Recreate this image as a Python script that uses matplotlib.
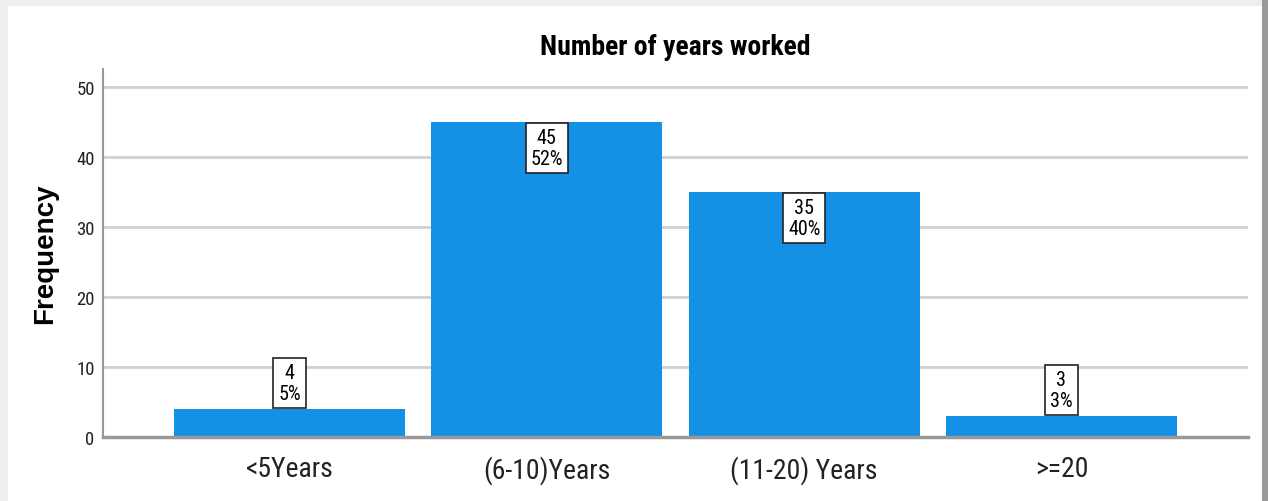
import matplotlib.pyplot as plt
from matplotlib.patches import Rectangle

categories = ['<5Years', '(6-10)Years', '(11-20) Years', '>=20']
counts = [4, 45, 35, 3]
percents = [5, 52, 40, 3]

narrow = ['Roboto Condensed', 'DejaVu Sans']
bar_color = '#1490e4'

fig = plt.figure(figsize=(12.68, 5.02), dpi=100)
fig.patch.set_facecolor('#eeeeee')
# white card with a darker shadow strip on the right
fig.patches.append(Rectangle((1262 / 1268, 0), 6 / 1268, 1, transform=fig.transFigure,
                             facecolor='#9a9a9a', edgecolor='none', zorder=-2))
fig.patches.append(Rectangle((8 / 1268, 0), 1254 / 1268, 1 - 7 / 502, transform=fig.transFigure,
                             facecolor='white', edgecolor='none', zorder=-1))

ax = fig.add_axes([103 / 1268, 1 - 438 / 502, 1145 / 1268, 368 / 502])
ax.set_facecolor('none')

x = list(range(len(categories)))
bars = ax.bar(x, counts, width=0.898, color=bar_color, zorder=2)

ax.set_xlim(-0.725, 3.725)
ax.set_ylim(0, 52.57)
ax.set_yticks([0, 10, 20, 30, 40, 50])
ax.yaxis.grid(True, color='#d0d0d0', linewidth=2, zorder=1)
ax.set_axisbelow(True)

for side in ['top', 'right']:
    ax.spines[side].set_visible(False)
ax.spines['left'].set_color('#999999')
ax.spines['left'].set_linewidth(1.5)
ax.spines['bottom'].set_color('#999999')
ax.spines['bottom'].set_linewidth(2.5)
ax.spines['bottom'].set_zorder(3)

ax.tick_params(axis='both', length=0)
ax.tick_params(axis='y', pad=6)
ax.tick_params(axis='x', pad=13)
ax.set_xticks(x)
ax.set_xticklabels(categories, fontsize=20, family=narrow, color='#222222')
for lbl in ax.get_yticklabels():
    lbl.set_fontsize(13.5)
    lbl.set_family(narrow)
    lbl.set_color('#222222')

ax.set_ylabel('Frequency', fontsize=20, fontweight='bold', family='Liberation Sans', labelpad=13)
ax.set_title('Number of years worked', fontsize=20, fontweight=600, family=narrow, pad=11)

# boxed count / percent labels at the top of each bar
fs = 14.5
pad = 0.25 * fs + 1
for xi, c, p in zip(x, counts, percents):
    big = c > 20
    ax.annotate(f'{c}\n{p}%', xy=(xi, c), xytext=(0, -pad if big else pad),
                textcoords='offset points', ha='center', va='top' if big else 'bottom',
                fontsize=fs, family=narrow, linespacing=1.1, zorder=4,
                bbox=dict(boxstyle='square,pad=0.25', facecolor='white',
                          edgecolor='#222222', linewidth=1.2))

plt.savefig('out.png', dpi=100, facecolor=fig.get_facecolor())
